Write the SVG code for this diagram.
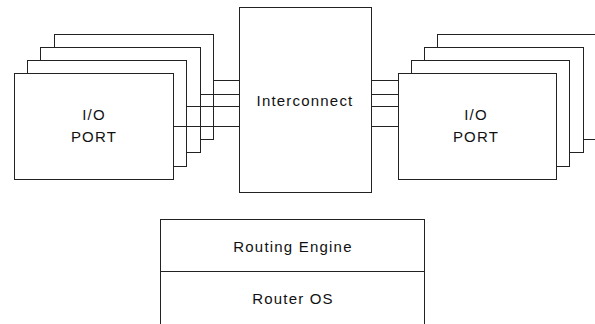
<svg xmlns="http://www.w3.org/2000/svg" width="595" height="324" viewBox="0 0 595 324">
<style>
.box{fill:#fff;stroke:#222;stroke-width:1}
.ln{stroke:#222;stroke-width:1;fill:none}
.t{font-family:"Liberation Sans",Arial,sans-serif;font-size:15px;letter-spacing:1.2px;fill:#111;text-anchor:middle}
</style>
<rect width="595" height="324" fill="#fff"/>
<g id="left-ports">
<rect class="box" x="54.5" y="34.5" width="159" height="105"/>
<rect class="box" x="40.5" y="47.5" width="160" height="105"/>
<rect class="box" x="27.5" y="60.5" width="159" height="106"/>
<g id="left-port">
<rect class="box" x="14.5" y="73.5" width="159" height="106"/>
<text class="t" x="94" y="120">I/O</text>
<text class="t" x="94" y="141.5">PORT</text>
</g>
</g>
<g id="interconnect">
<rect class="box" x="239.5" y="7.5" width="132" height="185"/>
<text class="t" x="305" y="106">Interconnect</text>
</g>
<g id="right-ports">
<rect class="box" x="437.5" y="34.5" width="159" height="105"/>
<rect class="box" x="424.5" y="47.5" width="159" height="105"/>
<rect class="box" x="411.5" y="60.5" width="158" height="106"/>
<g id="right-port">
<rect class="box" x="398.5" y="73.5" width="158" height="106"/>
<text class="t" x="476" y="120">I/O</text>
<text class="t" x="476" y="141.5">PORT</text>
</g>
</g>
<g id="connectors">
<line class="ln" x1="213.5" y1="80.5" x2="239.5" y2="80.5"/>
<line class="ln" x1="200.5" y1="94.5" x2="239.5" y2="94.5"/>
<line class="ln" x1="186.5" y1="106.5" x2="239.5" y2="106.5"/>
<line class="ln" x1="173.5" y1="126.5" x2="239.5" y2="126.5"/>
<line class="ln" x1="371.5" y1="80.5" x2="398.5" y2="80.5"/>
<line class="ln" x1="371.5" y1="94.5" x2="398.5" y2="94.5"/>
<line class="ln" x1="371.5" y1="106.5" x2="398.5" y2="106.5"/>
<line class="ln" x1="371.5" y1="126.5" x2="398.5" y2="126.5"/>
</g>
<g id="routing-engine">
<rect class="box" x="160.5" y="219.5" width="264" height="120"/>
<line class="ln" x1="160.5" y1="271.5" x2="424.5" y2="271.5"/>
<text class="t" x="293" y="251.5">Routing Engine</text>
<text class="t" x="293" y="304">Router OS</text>
</g>
</svg>
